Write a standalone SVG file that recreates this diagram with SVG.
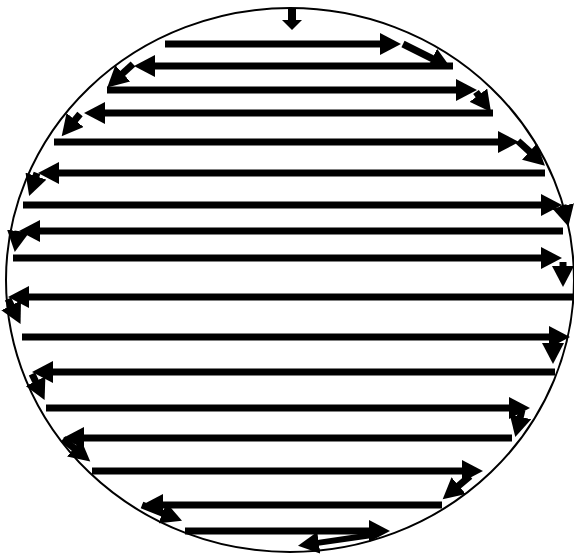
<svg xmlns="http://www.w3.org/2000/svg" width="574" height="556" viewBox="0 0 574 556">
<style>
.a{stroke:#000;stroke-width:7;fill:none;marker-end:url(#h)}
.c{stroke:#000;stroke-width:7;fill:none;marker-end:url(#h)}
.t{stroke:#000;stroke-width:8;fill:none;marker-end:url(#hs)}
.e{fill:#fff;stroke:#000;stroke-width:2}
</style>
<defs>
<marker id="h" markerUnits="userSpaceOnUse" markerWidth="22" markerHeight="22" refX="1" refY="11" orient="auto"><path d="M0,0 L21,11 L0,22 z" fill="#000"/></marker>
<marker id="hs" markerUnits="userSpaceOnUse" markerWidth="12" markerHeight="22" refX="1" refY="11" orient="auto"><path d="M0,1 L10,11 L0,21 z" fill="#000"/></marker>
</defs>
<rect width="574" height="556" fill="#fff"/>
<g id="boundary"><ellipse class="e" cx="290" cy="280" rx="284" ry="272"/></g>
<g id="connectors">
<line class="t" x1="292" y1="8" x2="292" y2="21"/>
<line class="a" x1="165" y1="44" x2="381" y2="44"/>
<line class="c" x1="403" y1="44" x2="433" y2="59"/>
<line class="a" x1="453" y1="66" x2="154" y2="66"/>
<line class="c" x1="133" y1="64" x2="122" y2="74"/>
<line class="a" x1="107" y1="90" x2="457" y2="90"/>
<line class="c" x1="476" y1="92" x2="479" y2="96"/>
<line class="a" x1="493" y1="113" x2="104" y2="113"/>
<line class="c" x1="80" y1="114" x2="74.4" y2="120.8"/>
<line class="a" x1="54" y1="142" x2="499" y2="142"/>
<line class="c" x1="518" y1="141" x2="530.2" y2="152.2"/>
<line class="a" x1="545" y1="173" x2="58" y2="173"/>
<line class="c" x1="37" y1="173" x2="35.6" y2="177.1"/>
<line class="a" x1="23" y1="205" x2="542" y2="205"/>
<line class="c" x1="563" y1="205" x2="563.5" y2="207"/>
<line class="a" x1="563" y1="231" x2="39" y2="231"/>
<line class="c" x1="18" y1="231" x2="17.8" y2="232.3"/>
<line class="a" x1="13" y1="258" x2="542" y2="258"/>
<line class="c" x1="563" y1="262" x2="563" y2="267"/>
<line class="a" x1="573" y1="297" x2="28" y2="297"/>
<line class="c" x1="8" y1="299" x2="11.6" y2="306.2"/>
<line class="a" x1="22" y1="337" x2="550" y2="337"/>
<line class="c" x1="553" y1="338" x2="553" y2="344"/>
<line class="a" x1="555" y1="372" x2="52" y2="372"/>
<line class="c" x1="32" y1="374" x2="35.9" y2="382.1"/>
<line class="a" x1="46" y1="408" x2="510" y2="408"/>
<line class="c" x1="522" y1="410" x2="520.1" y2="417.7"/>
<line class="a" x1="512" y1="438" x2="83" y2="438"/>
<line class="c" x1="63" y1="439" x2="74.8" y2="448.7"/>
<line class="a" x1="92" y1="471" x2="463" y2="471"/>
<line class="c" x1="470" y1="476" x2="457.9" y2="486.3"/>
<line class="a" x1="442" y1="505" x2="162" y2="505"/>
<line class="c" x1="142" y1="505" x2="163.4" y2="513.4"/>
<line class="a" x1="185" y1="531" x2="370" y2="531"/>
<line class="c" x1="372" y1="535" x2="317.8" y2="542.9" style="stroke-width:6"/>
</g>
</svg>
